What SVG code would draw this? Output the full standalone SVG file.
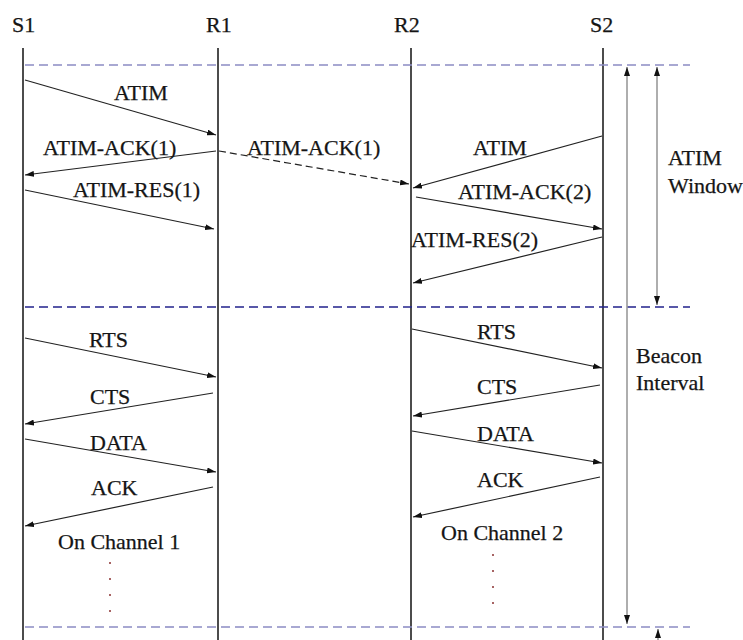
<svg xmlns="http://www.w3.org/2000/svg" width="743" height="640" viewBox="0 0 743 640">
<defs>
<marker id="ah" markerWidth="9" markerHeight="6" refX="9" refY="3" orient="auto" markerUnits="userSpaceOnUse">
<path d="M0,0 L9,3 L0,6 Z" fill="#111"/>
</marker>
<marker id="ahs" markerWidth="9" markerHeight="6" refX="9" refY="3" orient="auto-start-reverse" markerUnits="userSpaceOnUse">
<path d="M0,0 L9,3 L0,6 Z" fill="#111"/>
</marker>
<style>
text{font-size:22px;fill:#151515;stroke:#151515;stroke-width:0.25}
.life{stroke:#111;stroke-width:1.5;fill:none}
.msg{stroke:#222;stroke-width:1.2;fill:none;marker-end:url(#ah)}
.dash{stroke-dasharray:7 4}
.sep{stroke-width:1.5;stroke-dasharray:9 5;fill:none}
.light{stroke:#8c8cc4}
.dark{stroke:#22228c}
.span{stroke:#9a9a9a;stroke-width:1.6;fill:none}
.dot{fill:#8a3030}
</style>
</defs>
<rect width="743" height="640" fill="#fff"/>
<g font-family="'Liberation Serif', Tinos, 'Times New Roman', 'DejaVu Serif', serif">

<g id="S1"><text x="12" y="32">S1</text><line class="life" x1="23" y1="48" x2="23" y2="640"/></g>
<g id="R1"><text x="206" y="32">R1</text><line class="life" x1="218" y1="48" x2="218" y2="640"/></g>
<g id="R2"><text x="394" y="32">R2</text><line class="life" x1="411" y1="48" x2="411" y2="640"/></g>
<g id="S2"><text x="590" y="32">S2</text><line class="life" x1="603" y1="48" x2="603" y2="640"/></g>

<g id="separators">
<line class="sep light" x1="25" y1="65" x2="690" y2="65"/>
<line class="sep dark" x1="25" y1="307" x2="690" y2="307"/>
<line class="sep light" x1="25" y1="627" x2="690" y2="627"/>
</g>

<g id="intervals">
<line class="span" x1="627" y1="67" x2="627" y2="624" marker-start="url(#ahs)" marker-end="url(#ahs)"/>
<line class="span" x1="657" y1="67" x2="657" y2="305" marker-start="url(#ahs)" marker-end="url(#ahs)"/>
<line class="span" x1="658" y1="640" x2="658" y2="629" marker-end="url(#ah)"/>
<text x="668" y="165">ATIM</text>
<text x="668" y="193">Window</text>
<text x="636" y="363">Beacon</text>
<text x="636" y="390">Interval</text>
</g>

<g id="connectors">
<line class="msg" x1="25" y1="80" x2="216" y2="135"/>
<line class="msg" x1="216" y1="151" x2="25" y2="175"/>
<line class="msg dash" x1="219" y1="151" x2="409" y2="184"/>
<line class="msg" x1="25" y1="190" x2="214" y2="229"/>
<line class="msg" x1="602" y1="136" x2="413" y2="188"/>
<line class="msg" x1="416" y1="197" x2="602" y2="229"/>
<line class="msg" x1="602" y1="237" x2="413" y2="283"/>

<line class="msg" x1="25" y1="338" x2="216" y2="377"/>
<line class="msg" x1="213" y1="393" x2="25" y2="424"/>
<line class="msg" x1="25" y1="439" x2="216" y2="472"/>
<line class="msg" x1="213" y1="487" x2="25" y2="526"/>

<line class="msg" x1="412" y1="329" x2="602" y2="368"/>
<line class="msg" x1="600" y1="385" x2="413" y2="416"/>
<line class="msg" x1="412" y1="431" x2="602" y2="463"/>
<line class="msg" x1="600" y1="477" x2="413" y2="517"/>
</g>

<g id="labels">
<text x="114" y="100">ATIM</text>
<text x="43" y="155">ATIM-ACK(1)</text>
<text x="247" y="155">ATIM-ACK(1)</text>
<text x="73" y="197">ATIM-RES(1)</text>
<text x="473" y="155">ATIM</text>
<text x="458" y="199">ATIM-ACK(2)</text>
<text x="411" y="247">ATIM-RES(2)</text>

<text x="89" y="347">RTS</text>
<text x="90" y="404">CTS</text>
<text x="90" y="450">DATA</text>
<text x="91" y="495">ACK</text>
<text x="58" y="549">On Channel 1</text>

<text x="477" y="339">RTS</text>
<text x="477" y="394">CTS</text>
<text x="477" y="441">DATA</text>
<text x="477" y="487">ACK</text>
<text x="441" y="540">On Channel 2</text>
</g>

<g id="dots">
<circle class="dot" cx="110" cy="563" r="1"/>
<circle class="dot" cx="110" cy="579" r="1"/>
<circle class="dot" cx="110" cy="595" r="1"/>
<circle class="dot" cx="110" cy="611" r="1"/>
<circle class="dot" cx="493" cy="555" r="1"/>
<circle class="dot" cx="493" cy="571" r="1"/>
<circle class="dot" cx="493" cy="587" r="1"/>
<circle class="dot" cx="493" cy="603" r="1"/>
</g>
</g>
</svg>
